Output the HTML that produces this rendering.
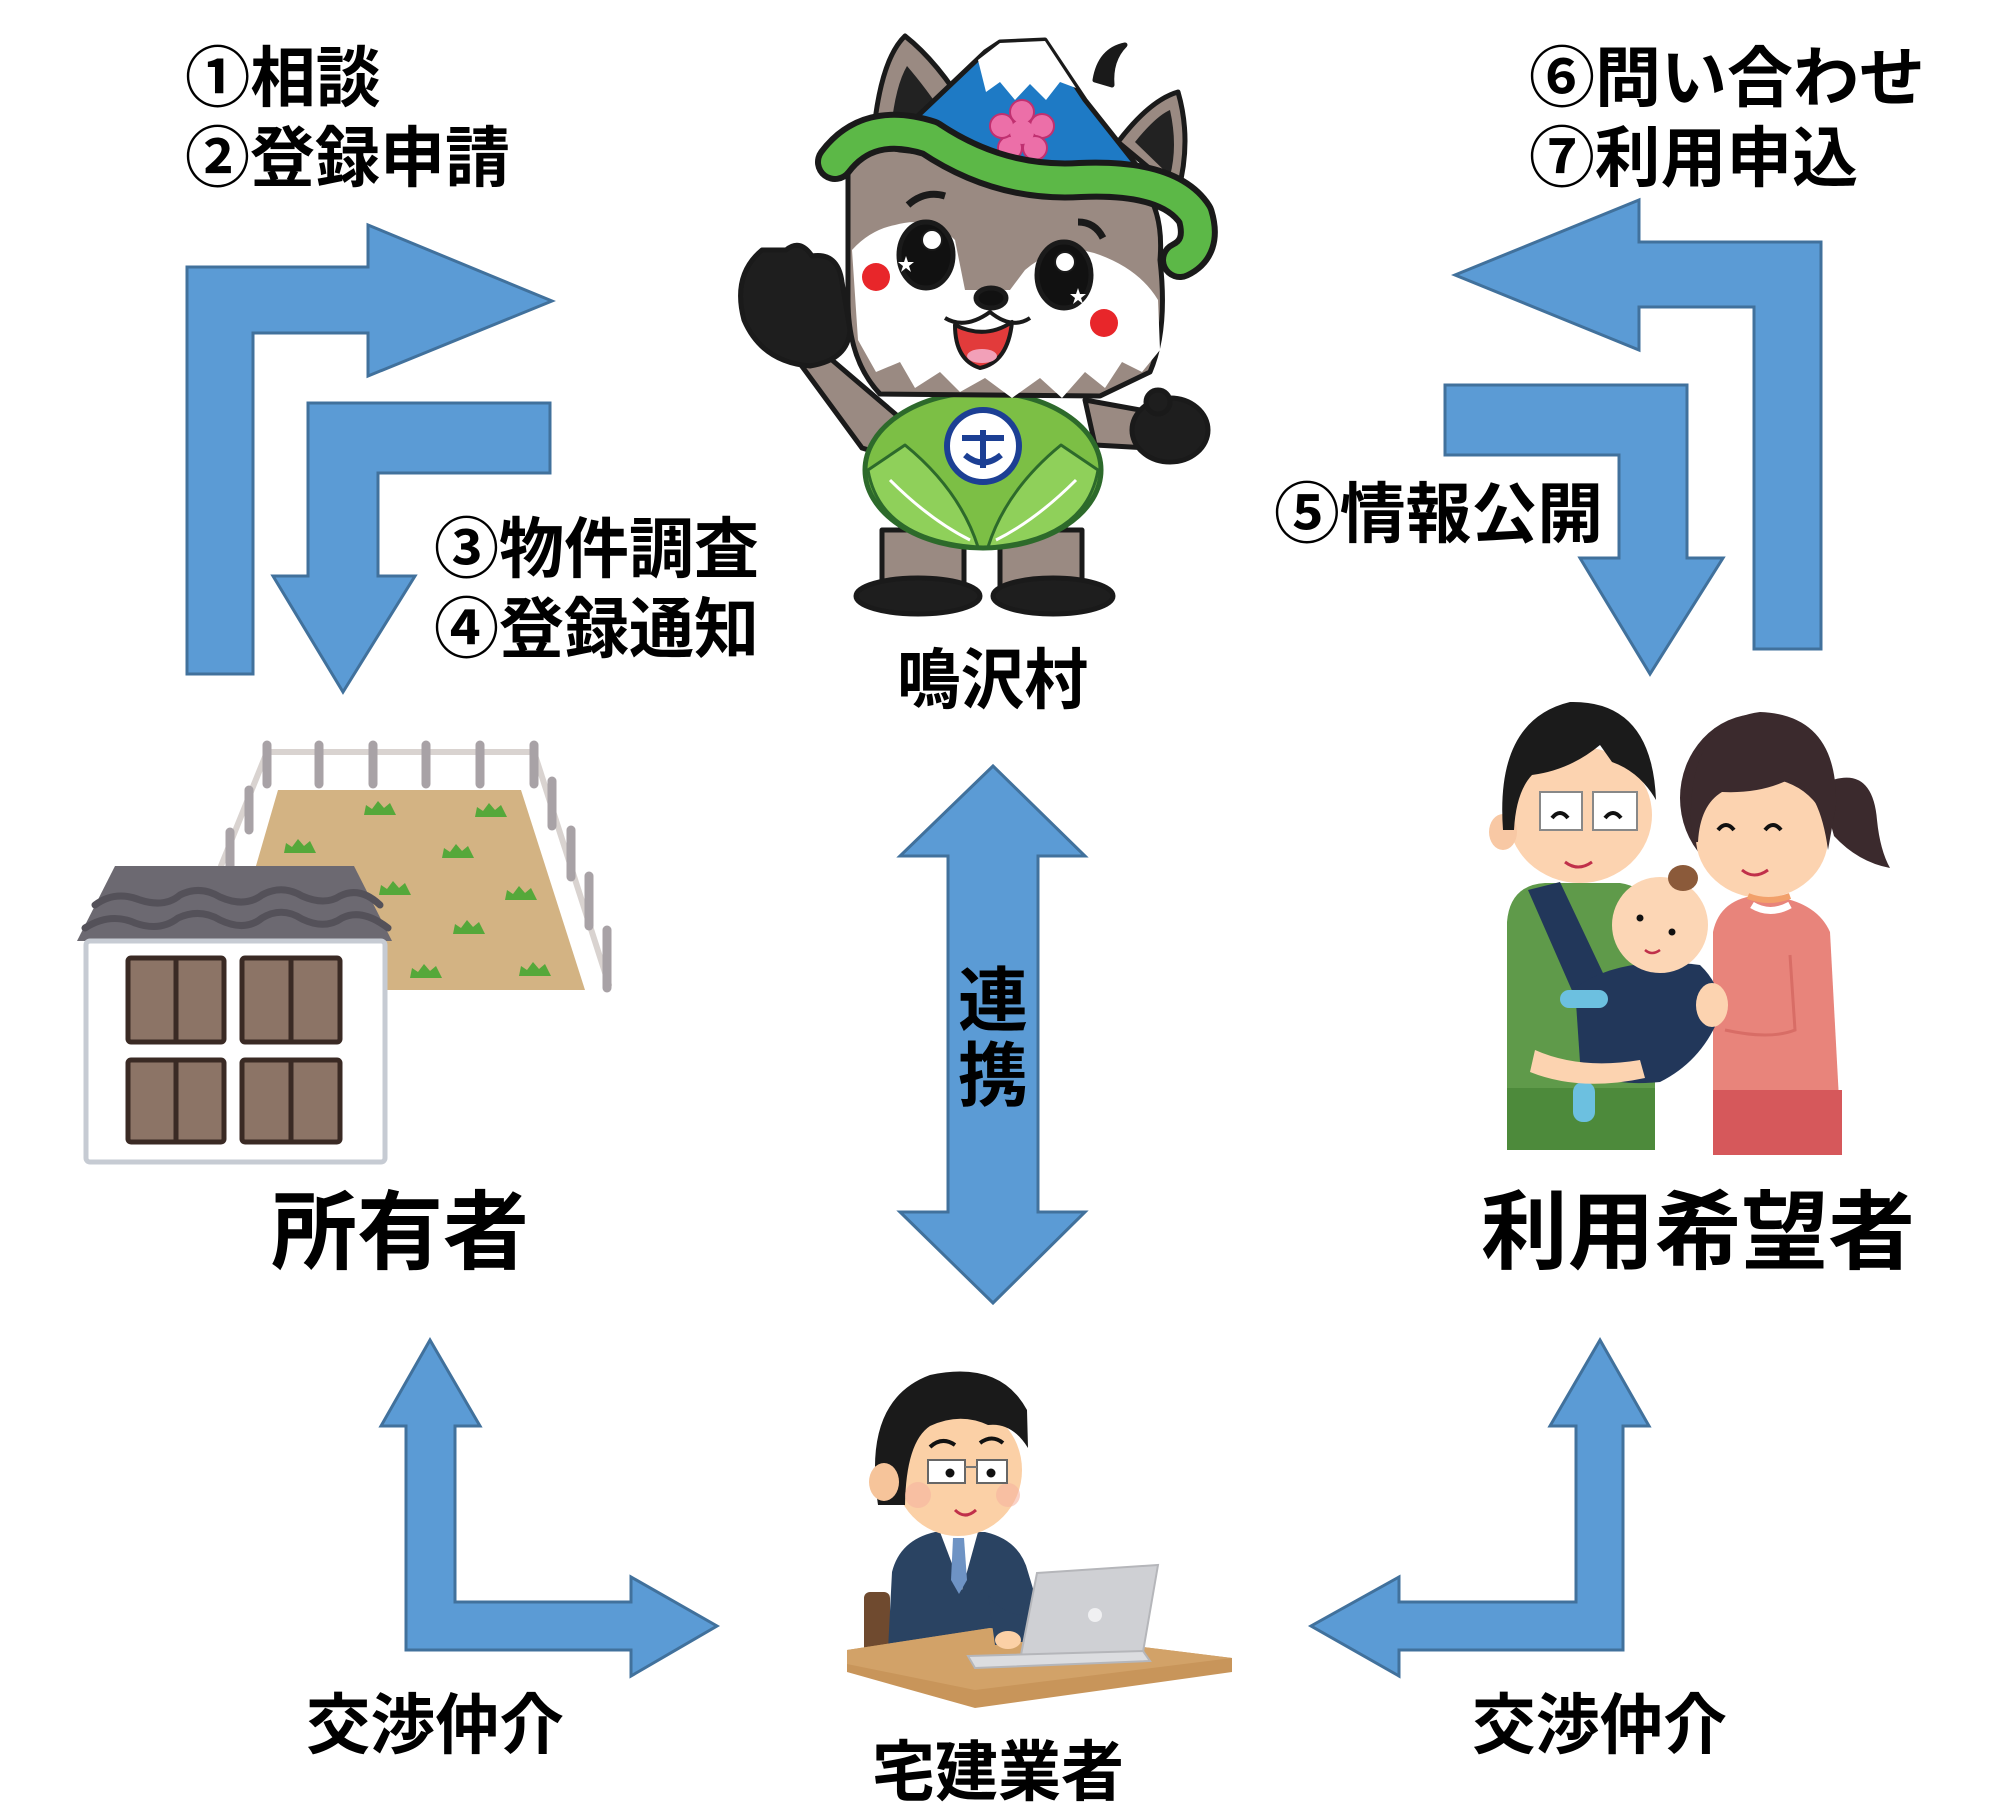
<!DOCTYPE html>
<html>
<head>
<meta charset="utf-8">
<style>
  html,body{margin:0;padding:0;background:#fff;}
  svg{display:block;}
  .t{font-family:"Liberation Sans","Noto Sans CJK JP",sans-serif;font-weight:700;fill:#000;}
</style>
</head>
<body>
<svg width="2000" height="1813" viewBox="0 0 2000 1813" xmlns="http://www.w3.org/2000/svg">
<rect width="2000" height="1813" fill="#fff"/>

<!-- ============ ARROWS ============ -->
<g fill="#5b9bd5" stroke="#41719c" stroke-width="3" stroke-linejoin="miter">
  <!-- A1 up then right -->
  <polygon points="187,674 187,267 368,267 368,225 552,301 368,376 368,333 253,333 253,674"/>
  <!-- A2 left bar then down -->
  <polygon points="550,403 308,403 308,576 273,576 343,692 415,576 378,576 378,473 550,473"/>
  <!-- A3 up then left -->
  <polygon points="1821,649 1821,242 1639,242 1639,200 1455,275 1639,350 1639,307 1754,307 1754,649"/>
  <!-- A4 right bar then down -->
  <polygon points="1445,385 1687,385 1687,558 1723,558 1650,674 1580,558 1619,558 1619,455 1445,455"/>
  <!-- A5 vertical double -->
  <polygon points="993,766 1085,856 1038,856 1038,1212 1085,1212 993,1303 900,1212 948,1212 948,856 900,856"/>
  <!-- A6 bottom-left L -->
  <polygon points="430,1340 480,1426 455,1426 455,1602 631,1602 631,1577 717,1626 631,1676 631,1650 406,1650 406,1426 381,1426"/>
  <!-- A7 bottom-right L -->
  <polygon points="1600,1340 1649,1426 1623,1426 1623,1650 1399,1650 1399,1676 1311,1626 1399,1577 1399,1602 1576,1602 1576,1426 1550,1426"/>
</g>

<!-- ============ TEXT ============ -->
<g class="t">
  <text class="t" x="185" y="101" font-size="66" textLength="196" lengthAdjust="spacingAndGlyphs">①相談</text>
  <text class="t" x="185" y="181" font-size="66" textLength="325" lengthAdjust="spacingAndGlyphs">②登録申請</text>
  <text class="t" x="434" y="572" font-size="66" textLength="325" lengthAdjust="spacingAndGlyphs">③物件調査</text>
  <text class="t" x="434" y="652" font-size="66" textLength="325" lengthAdjust="spacingAndGlyphs">④登録通知</text>
  <text class="t" x="1529" y="101" font-size="66" textLength="396" lengthAdjust="spacingAndGlyphs">⑥問い合わせ</text>
  <text class="t" x="1529" y="181" font-size="66" textLength="329" lengthAdjust="spacingAndGlyphs">⑦利用申込</text>
  <text class="t" x="1274" y="537" font-size="66" textLength="329" lengthAdjust="spacingAndGlyphs">⑤情報公開</text>
  <text class="t" x="897" y="703" font-size="66" textLength="191" lengthAdjust="spacingAndGlyphs">鳴沢村</text>
  <text class="t" x="993" y="1025" font-size="70" text-anchor="middle">連</text>
  <text class="t" x="993" y="1100" font-size="70" text-anchor="middle">携</text>
  <text class="t" x="271" y="1262" font-size="86" textLength="258" lengthAdjust="spacingAndGlyphs">所有者</text>
  <text class="t" x="1481" y="1262" font-size="86" textLength="434" lengthAdjust="spacingAndGlyphs">利用希望者</text>
  <text class="t" x="306" y="1748" font-size="66" textLength="258" lengthAdjust="spacingAndGlyphs">交渉仲介</text>
  <text class="t" x="1472" y="1748" font-size="66" textLength="255" lengthAdjust="spacingAndGlyphs">交渉仲介</text>
  <text class="t" x="872" y="1795" font-size="66" textLength="252" lengthAdjust="spacingAndGlyphs">宅建業者</text>
</g>

<!-- ============ HOUSE + FIELD ============ -->
<g>
  <!-- fence rails -->
  <g stroke="#d9d3d0" stroke-width="6" fill="none" stroke-linecap="round">
    <line x1="267" y1="752" x2="534" y2="752"/>
    <line x1="267" y1="752" x2="221" y2="866"/>
    <line x1="534" y1="752" x2="609" y2="985"/>
  </g>
  <!-- fence posts -->
  <g stroke="#a8a2a6" stroke-width="9" stroke-linecap="round">
    <line x1="267" y1="745" x2="267" y2="784"/>
    <line x1="319" y1="745" x2="319" y2="784"/>
    <line x1="373" y1="745" x2="373" y2="784"/>
    <line x1="426" y1="745" x2="426" y2="784"/>
    <line x1="480" y1="745" x2="480" y2="784"/>
    <line x1="534" y1="745" x2="534" y2="784"/>
    <line x1="249" y1="790" x2="249" y2="830"/>
    <line x1="230" y1="832" x2="230" y2="874"/>
    <line x1="552" y1="781" x2="552" y2="826"/>
    <line x1="571" y1="830" x2="571" y2="877"/>
    <line x1="589" y1="876" x2="589" y2="926"/>
    <line x1="607" y1="930" x2="607" y2="988"/>
  </g>
  <!-- field -->
  <polygon points="278,790 521,790 585,990 220,990" fill="#d3b383"/>
  <g fill="#55a83a">
    <path d="M364 815 L366 805 L372 809 L378 801 L384 808 L390 803 L396 815 Z"/>
    <path d="M475 817 L477 807 L483 811 L489 803 L495 810 L501 805 L507 817 Z"/>
    <path d="M284 853 L286 843 L292 847 L298 839 L304 846 L310 841 L316 853 Z"/>
    <path d="M442 858 L444 848 L450 852 L456 844 L462 851 L468 846 L474 858 Z"/>
    <path d="M379 895 L381 885 L387 889 L393 881 L399 888 L405 883 L411 895 Z"/>
    <path d="M505 900 L507 890 L513 894 L519 886 L525 893 L531 888 L537 900 Z"/>
    <path d="M453 934 L455 924 L461 928 L467 920 L473 927 L479 922 L485 934 Z"/>
    <path d="M410 978 L412 968 L418 972 L424 964 L430 971 L436 966 L442 978 Z"/>
    <path d="M519 976 L521 966 L527 970 L533 962 L539 969 L545 964 L551 976 Z"/>
  </g>
  <!-- roof -->
  <polygon points="115,866 354,866 392,941 77,941" fill="#6c6971"/>
  <g fill="none" stroke="#545159" stroke-width="7" stroke-linecap="round">
    <path d="M95 905 Q115 890 140 900 Q165 908 180 895 Q200 885 220 897 Q245 908 262 895 Q282 884 302 896 Q325 906 340 896 Q360 886 380 905"/>
    <path d="M85 928 Q110 912 135 923 Q160 932 178 918 Q200 908 220 920 Q245 932 262 918 Q282 906 302 919 Q325 930 342 918 Q362 908 388 928"/>
  </g>
  <!-- wall -->
  <rect x="86" y="941" width="299" height="221" rx="4" fill="#fff" stroke="#c6cbd3" stroke-width="5"/>
  <!-- windows -->
  <g fill="#8c7466" stroke="#3a2a24" stroke-width="5">
    <rect x="128" y="958" width="96" height="84" rx="3"/>
    <rect x="242" y="958" width="98" height="84" rx="3"/>
    <rect x="128" y="1060" width="96" height="82" rx="3"/>
    <rect x="242" y="1060" width="98" height="82" rx="3"/>
  </g>
  <g stroke="#3a2a24" stroke-width="5">
    <line x1="176" y1="958" x2="176" y2="1042"/>
    <line x1="291" y1="958" x2="291" y2="1042"/>
    <line x1="176" y1="1060" x2="176" y2="1142"/>
    <line x1="291" y1="1060" x2="291" y2="1142"/>
  </g>
</g>

<!-- ============ MASCOT ============ -->
<g stroke="#1a1a1a" stroke-width="5" stroke-linejoin="round">
  <!-- legs -->
  <rect x="882" y="530" width="82" height="68" fill="#9a8a82"/>
  <rect x="1000" y="530" width="82" height="68" fill="#9a8a82"/>
  <ellipse cx="918" cy="596" rx="62" ry="18" fill="#1e1e1e"/>
  <ellipse cx="1053" cy="596" rx="60" ry="18" fill="#1e1e1e"/>
  <!-- right arm -->
  <polygon points="1085,400 1140,410 1148,448 1095,445" fill="#9a8a82"/>
  <!-- left arm -->
  <polygon points="790,350 832,360 900,418 885,455 862,448" fill="#9a8a82"/>
  <!-- body -->
  <ellipse cx="983" cy="470" rx="118" ry="78" fill="#7cbf45" stroke="#2d6a2b"/>
  <path d="M868 470 Q880 540 978 547 Q960 490 905 445 Z" fill="#8fd05a" stroke="#2d6a2b" stroke-width="3"/>
  <path d="M1098 470 Q1086 540 988 547 Q1006 490 1061 445 Z" fill="#8fd05a" stroke="#2d6a2b" stroke-width="3"/>
  <g stroke="#fff" stroke-width="3" fill="none">
    <path d="M890 480 Q930 520 970 540"/>
    <path d="M1076 480 Q1036 520 996 540"/>
  </g>
  <circle cx="983" cy="446" r="36" fill="#fff" stroke="#1c3f94" stroke-width="6"/>
  <g stroke="#1c3f94" stroke-width="6" fill="none">
    <path d="M962 438 L1004 438"/>
    <path d="M983 430 L983 468"/>
    <path d="M965 455 Q983 470 1001 455"/>
  </g>
  <!-- ears -->
  <path d="M872 152 Q878 62 905 36 Q938 62 968 112 Z" fill="#9a8a82"/>
  <path d="M890 140 Q894 88 907 66 Q926 88 946 118 Z" fill="#222" stroke="none"/>
  <path d="M1118 142 Q1150 100 1178 92 Q1192 140 1178 192 Z" fill="#9a8a82"/>
  <path d="M1135 142 Q1156 116 1170 110 Q1178 146 1170 176 Z" fill="#222" stroke="none"/>
  <!-- tuft -->
  <path d="M1095 80 Q1100 50 1125 45 Q1110 60 1112 85 Z" fill="#1a1a1a"/>
  <!-- head -->
  <path d="M848 175 Q852 140 900 150 L1130 175 Q1165 200 1160 260 Q1168 330 1150 372 L1100 396 L880 394 Q848 360 848 300 Z" fill="#9a8a82"/>
  <!-- white face -->
  <path d="M852 250 Q870 230 895 225 Q930 215 955 240 L965 290 L1010 290 L1025 270 Q1060 240 1100 255 Q1140 270 1158 300 L1160 350 L1142 372 L1122 362 L1105 388 L1085 372 L1062 398 L1040 378 L1012 398 L985 378 L960 392 L940 372 L915 388 L900 362 L876 372 L858 340 Z" fill="#fff" stroke="none"/>
  <!-- eyes -->
  <ellipse cx="926" cy="255" rx="27" ry="33" fill="#111"/>
  <circle cx="932" cy="240" r="10" fill="#fff" stroke-width="2"/>
  <ellipse cx="1064" cy="275" rx="27" ry="33" fill="#111"/>
  <circle cx="1065" cy="262" r="10" fill="#fff" stroke-width="2"/>
  <g fill="#fff" stroke="none">
    <polygon points="906,256 908,262 914,262 909,266 911,272 906,268 901,272 903,266 898,262 904,262"/>
    <polygon points="1078,288 1080,294 1086,294 1081,298 1083,304 1078,300 1073,304 1075,298 1070,294 1076,294"/>
  </g>
  <!-- brows -->
  <path d="M908 205 Q925 190 945 196" fill="none" stroke-width="7"/>
  <path d="M1078 222 Q1095 222 1103 238" fill="none" stroke-width="7"/>
  <!-- nose & mouth -->
  <ellipse cx="991" cy="298" rx="15" ry="10" fill="#111"/>
  <path d="M945 318 Q965 330 990 312 Q1012 330 1030 318" fill="none" stroke-width="4"/>
  <path d="M955 325 Q985 340 1012 322 Q1008 362 980 368 Q955 360 955 325 Z" fill="#e23b3b" stroke-width="4"/>
  <ellipse cx="982" cy="356" rx="15" ry="7" fill="#f2a0b8" stroke="none"/>
  <!-- cheeks -->
  <circle cx="876" cy="277" r="14" fill="#e8262a" stroke="none"/>
  <circle cx="1104" cy="323" r="14" fill="#e8262a" stroke="none"/>
  <!-- hat crown -->
  <polygon points="905,128 985,52 1000,42 1045,40 1085,100 1142,172 1070,195 960,165" fill="#1e7ac5"/>
  <polygon points="978,60 1000,43 1045,41 1076,88 1060,82 1046,100 1030,84 1015,100 1000,82 986,92" fill="#fff" stroke="none"/>
  <!-- blossom -->
  <g fill="#ec6fa8" stroke="#c03070" stroke-width="2">
    <circle cx="1022" cy="112" r="12"/>
    <circle cx="1042" cy="126" r="12"/>
    <circle cx="1035" cy="148" r="12"/>
    <circle cx="1010" cy="148" r="12"/>
    <circle cx="1002" cy="126" r="12"/>
    <circle cx="1022" cy="132" r="12" stroke="none"/>
  </g>
  <!-- brim -->
  <path d="M835 162 Q868 118 930 138 Q1000 185 1080 180 Q1170 176 1195 215 Q1205 248 1180 260" fill="none" stroke="#1a1a1a" stroke-width="40" stroke-linecap="round"/>
  <path d="M835 162 Q868 118 930 138 Q1000 185 1080 180 Q1170 176 1195 215 Q1205 248 1180 260" fill="none" stroke="#5cb847" stroke-width="28" stroke-linecap="round"/>
  <!-- left hand (raised) -->
  <path d="M762 250 Q732 275 744 320 Q762 362 810 366 Q848 360 850 330 L842 282 Q838 252 812 256 Q800 238 786 250 Z" fill="#1e1e1e"/>
  <!-- right hand -->
  <ellipse cx="1170" cy="430" rx="38" ry="32" fill="#1e1e1e"/>
  <circle cx="1158" cy="402" r="12" fill="#1e1e1e"/>
</g>

<!-- ============ BUSINESSMAN ============ -->
<g>
  <rect x="864" y="1592" width="26" height="62" rx="6" fill="#6f4a2f"/>
  <path d="M888 1650 L892 1572 Q900 1540 935 1532 L985 1532 Q1020 1540 1028 1572 L1040 1612 L1030 1650 Z" fill="#2a4362"/>
  <path d="M940 1532 L978 1532 L962 1590 Z" fill="#fff"/>
  <path d="M953 1538 L964 1538 L967 1580 L959 1594 L951 1580 Z" fill="#6e93c4"/>
  <ellipse cx="958" cy="1470" rx="64" ry="66" fill="#fbd0a6"/>
  <path d="M878 1505 Q862 1400 930 1375 Q1000 1360 1027 1410 L1028 1448 Q1012 1422 988 1425 Q960 1412 930 1426 Q906 1442 905 1505 Z" fill="#1a1a1a"/>
  <ellipse cx="884" cy="1482" rx="15" ry="19" fill="#f6c49a"/>
  <circle cx="918" cy="1495" r="13" fill="#f7b4a0" opacity="0.6"/>
  <circle cx="1008" cy="1495" r="12" fill="#f7b4a0" opacity="0.6"/>
  <g fill="#fff" stroke="#666" stroke-width="2">
    <rect x="928" y="1460" width="37" height="23"/>
    <rect x="977" y="1460" width="30" height="23"/>
  </g>
  <line x1="965" y1="1467" x2="977" y2="1467" stroke="#777" stroke-width="2"/>
  <circle cx="950" cy="1473" r="4.5" fill="#111"/>
  <circle cx="991" cy="1473" r="4.5" fill="#111"/>
  <path d="M930 1447 Q942 1436 955 1445" fill="none" stroke="#111" stroke-width="4"/>
  <path d="M980 1443 Q992 1434 1003 1443" fill="none" stroke="#111" stroke-width="4"/>
  <path d="M955 1510 Q965 1520 976 1510" fill="none" stroke="#c0304a" stroke-width="3"/>
  <!-- desk -->
  <polygon points="847,1650 990,1628 1232,1658 1232,1672 975,1708 847,1672" fill="#c8955a"/>
  <polygon points="847,1650 990,1628 1232,1658 975,1690 847,1664" fill="#d2a268"/>
  <!-- arm & hand -->
  <path d="M988 1595 Q1010 1622 1035 1612 L1040 1640 L995 1645 Z" fill="#2a4362"/>
  <ellipse cx="1008" cy="1640" rx="13" ry="9" fill="#fbd0a6"/>
  <!-- laptop -->
  <polygon points="1037,1573 1158,1565 1143,1652 1020,1660" fill="#cfd0d4" stroke="#b5b6ba" stroke-width="2"/>
  <polygon points="968,1656 1143,1651 1150,1661 975,1668" fill="#dcdde0" stroke="#b5b6ba" stroke-width="2"/>
  <circle cx="1095" cy="1615" r="7" fill="#f0f0f2"/>
</g>

<!-- ============ FAMILY ============ -->
<g>
  <!-- woman hair & ponytail -->
  <path d="M1820 785 Q1872 760 1877 820 Q1880 850 1890 868 Q1858 862 1834 836 Z" fill="#3b2a2d"/>
  <ellipse cx="1758" cy="798" rx="78" ry="84" fill="#3b2a2d"/>
  <!-- woman body -->
  <path d="M1713 1155 L1713 932 Q1720 898 1760 895 Q1815 898 1830 932 L1842 1155 Z" fill="#e8847b"/>
  <rect x="1713" y="1090" width="129" height="65" fill="#d6585b"/>
  <ellipse cx="1762" cy="838" rx="66" ry="60" fill="#fcd3b0"/>
  <path d="M1692 842 Q1682 722 1760 712 Q1838 715 1836 805 L1828 850 Q1820 790 1792 778 Q1762 794 1722 792 Q1700 805 1698 842 Z" fill="#3b2a2d"/>
  <path d="M1748 896 Q1768 904 1790 896" fill="none" stroke="#f2a06a" stroke-width="6"/>
  <path d="M1752 905 Q1770 916 1790 905" fill="none" stroke="#fff" stroke-width="7"/>
  <!-- man body -->
  <path d="M1507 1150 L1507 922 Q1510 885 1545 883 L1620 883 Q1655 888 1655 930 L1655 1150 Z" fill="#5f9a4a"/>
  <rect x="1507" y="1088" width="148" height="62" fill="#4d8a3b"/>
  <path d="M1528 890 L1560 882 L1645 1062 L1612 1082 Z" fill="#22375a"/>
  <!-- man head -->
  <ellipse cx="1580" cy="815" rx="72" ry="68" fill="#fcd3b0"/>
  <ellipse cx="1503" cy="832" rx="14" ry="18" fill="#f8c8a4"/>
  <path d="M1503 830 Q1495 720 1570 702 Q1652 700 1656 800 Q1640 772 1612 762 L1600 745 Q1570 770 1532 775 Q1516 792 1514 830 Z" fill="#1b1b1b"/>
  <g fill="#fff" stroke="#888" stroke-width="2">
    <rect x="1540" y="792" width="42" height="38"/>
    <rect x="1593" y="792" width="44" height="38"/>
  </g>
  <path d="M1552 818 Q1560 808 1568 818" fill="none" stroke="#111" stroke-width="4"/>
  <path d="M1605 818 Q1613 808 1621 818" fill="none" stroke="#111" stroke-width="4"/>
  <path d="M1565 862 Q1578 872 1592 862" fill="none" stroke="#c0304a" stroke-width="3"/>
  <!-- woman face features -->
  <path d="M1718 830 Q1726 820 1734 830" fill="none" stroke="#111" stroke-width="4"/>
  <path d="M1765 830 Q1773 820 1781 830" fill="none" stroke="#111" stroke-width="4"/>
  <path d="M1742 870 Q1754 880 1768 870" fill="none" stroke="#c0304a" stroke-width="3"/>
  <!-- baby -->
  <path d="M1575 988 Q1620 955 1700 965 Q1726 990 1718 1020 Q1700 1062 1660 1082 Q1600 1088 1580 1062 Z" fill="#22375a"/>
  <rect x="1560" y="990" width="48" height="18" rx="9" fill="#6cc0e0"/>
  <rect x="1573" y="1082" width="22" height="40" rx="10" fill="#6cc0e0"/>
  <circle cx="1660" cy="925" r="48" fill="#fcd6b5"/>
  <ellipse cx="1683" cy="878" rx="15" ry="13" fill="#8b5a3a"/>
  <circle cx="1640" cy="918" r="3.5" fill="#111"/>
  <circle cx="1672" cy="932" r="3.5" fill="#111"/>
  <path d="M1645 950 Q1652 956 1660 950" fill="none" stroke="#c0304a" stroke-width="2.5"/>
  <!-- arms -->
  <path d="M1535 1050 Q1580 1070 1640 1060 L1645 1078 Q1580 1092 1530 1072 Z" fill="#fcd3b0"/>
  <ellipse cx="1712" cy="1005" rx="16" ry="22" fill="#fcd3b0"/>
  <path d="M1790 955 L1795 1030 Q1770 1040 1725 1030" fill="none" stroke="#d86d66" stroke-width="3"/>
</g>
</svg>
</body>
</html>
